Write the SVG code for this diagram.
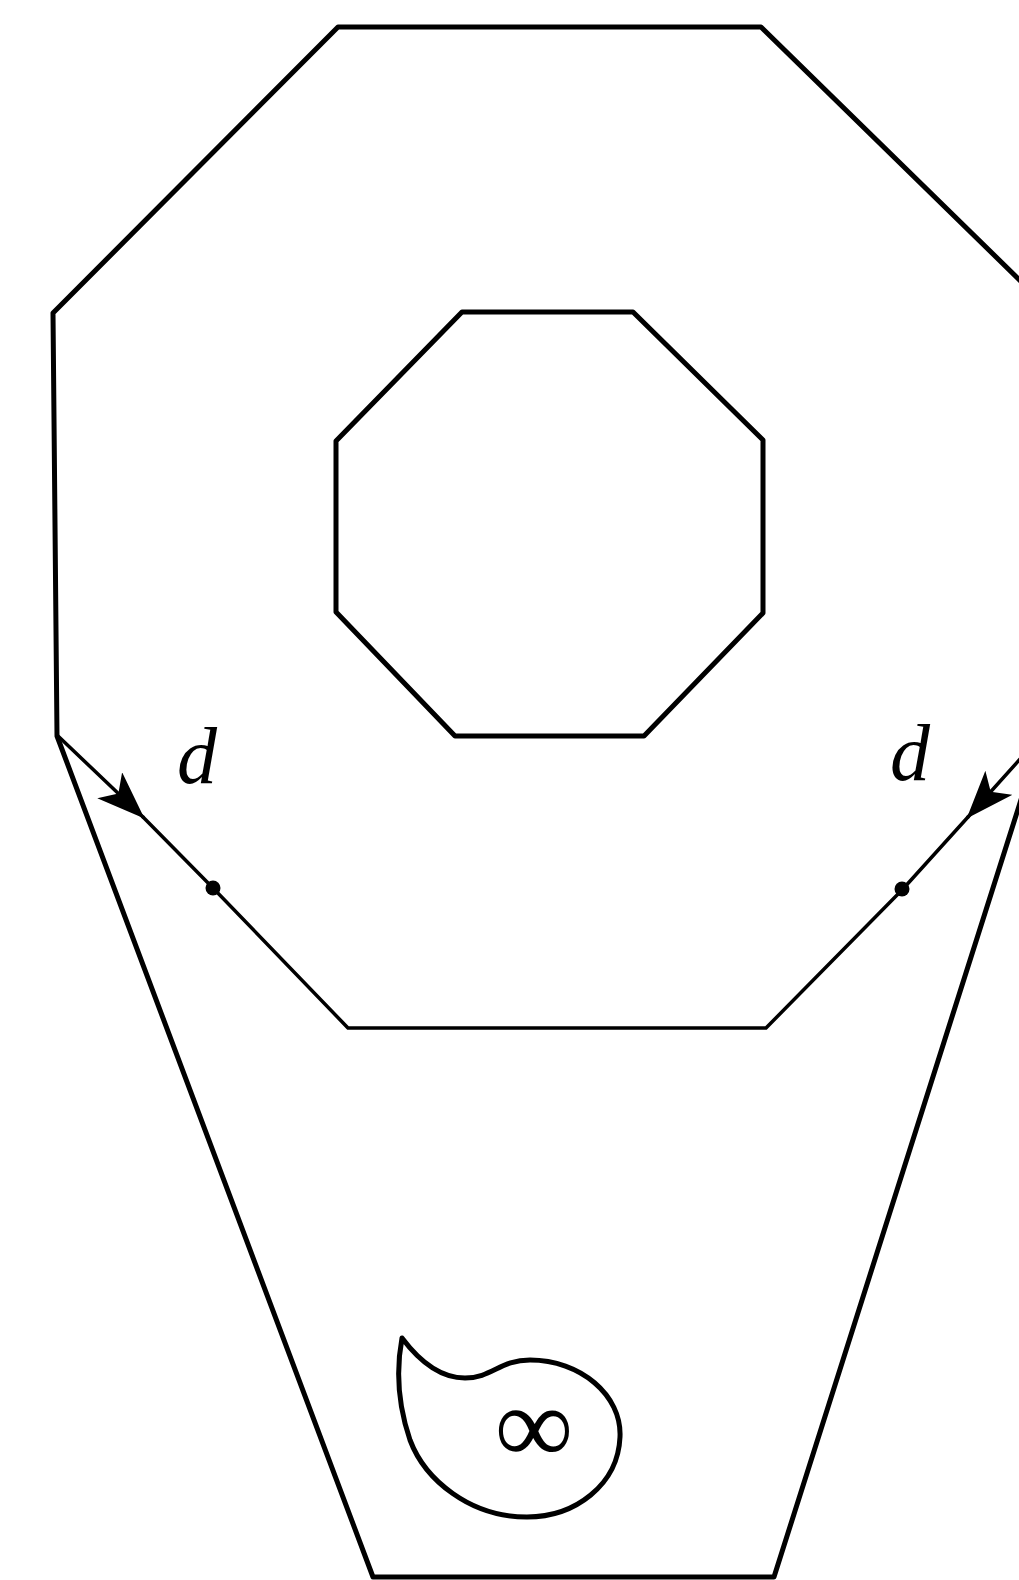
<svg xmlns="http://www.w3.org/2000/svg" width="1019" height="1580" viewBox="0 0 1019 1580">
<style>
.thick{fill:none;stroke:#000;stroke-width:5;stroke-linejoin:round;stroke-linecap:round}
.thin{fill:none;stroke:#000;stroke-width:3.5;stroke-linejoin:round;stroke-linecap:round}
.lbl{font-family:"Liberation Serif","Times New Roman",serif;font-style:italic;font-size:80px;fill:#000}
.sym{font-family:"Liberation Serif","Times New Roman",serif;font-size:110px;fill:#000}
</style>
<defs>
<marker id="arr" markerUnits="userSpaceOnUse" viewBox="0 0 48 36" refX="46" refY="18" markerWidth="48" markerHeight="36" orient="auto">
<path d="M0,0 L48,18 L0,36 L12,18 Z" fill="#000"/>
</marker>
</defs>
<rect width="1019" height="1580" fill="#fff"/>
<g id="outer">
<path class="thick" d="M1040,300 L761,27 L338,27 L53,313 L57,736 L373,1577 L774,1577 L1040,740"/>
</g>
<g id="inner-octagon">
<polygon class="thick" points="462,312 633,312 763,440 763,613 644,736 455,736 336,612 336,441"/>
</g>
<g id="lower-path">
<path class="thin" d="M143,817 L213,888 L348,1028 L766,1028 L902,890 L968,817"/>
<circle cx="213" cy="888" r="7.5" fill="#000"/>
<circle cx="902" cy="889" r="7.5" fill="#000"/>
</g>
<g id="connectors">
<line class="thin" x1="58" y1="736" x2="143" y2="817" marker-end="url(#arr)"/>
<line class="thin" x1="1030" y1="748" x2="968" y2="817" marker-end="url(#arr)"/>
</g>
<g id="labels">
<text class="lbl" x="177" y="783">d</text>
<text class="lbl" x="890" y="780">d</text>
</g>
<g id="teardrop">
<path class="thick" d="M402,1338 C420,1362 440,1378 465,1378 C492,1378 500,1360 530,1360 C580,1360 622,1395 620,1437 C618,1485 575,1517 527,1517 C470,1517 425,1480 410,1440 C398,1405 396,1370 402,1338 Z"/>
<text class="sym" x="534" y="1463" text-anchor="middle">∞</text>
</g>
</svg>
